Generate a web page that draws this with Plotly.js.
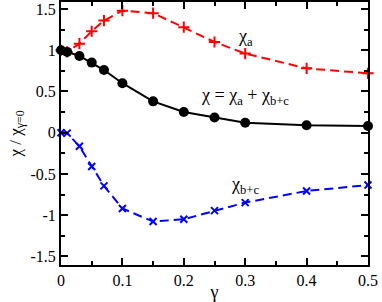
<!DOCTYPE html>
<html><head><meta charset="utf-8">
<script src="https://cdn.plot.ly/plotly-3.0.1.min.js"></script>
<style>html,body{margin:0;padding:0;background:#fff}#chart{width:382px;height:302px}</style>
</head><body><div id="chart"></div>
<script>
const gamma = [0, 0.01, 0.03, 0.05, 0.07, 0.1, 0.15, 0.2, 0.25, 0.3, 0.4, 0.5];
const chiA = [1.0, 0.98, 1.08, 1.23, 1.36, 1.48, 1.45, 1.28, 1.1, 0.96, 0.78, 0.72];
const chiTotal = [1.0, 0.98, 0.93, 0.85, 0.76, 0.6, 0.38, 0.25, 0.185, 0.12, 0.09, 0.08];
const chiBC = [0.0, -0.005, -0.165, -0.41, -0.645, -0.92, -1.078, -1.05, -0.945, -0.848, -0.707, -0.635];
const xTicks = [0, 0.1, 0.2, 0.3, 0.4, 0.5];
const xTickText = ['0', '0.1', '0.2', '0.3', '0.4', '0.5'];
const yTicks = [-1.5, -1, -0.5, 0, 0.5, 1, 1.5];
const yTickText = ['-1.5', '-1', '-0.5', '0', '0.5', '1', '1.5'];

const serif = '"Liberation Serif", "Times New Roman", serif';
const traces = [
  {x: gamma, y: chiA, mode: 'lines+markers', cliponaxis: false,
   line: {color: '#ff0000', width: 2, dash: '9px,5px'},
   marker: {symbol: 'cross-thin-open', size: 8, color: '#ff0000', line: {color: '#ff0000', width: 2}}},
  {x: gamma, y: chiBC, mode: 'lines+markers', cliponaxis: false,
   line: {color: '#0000ff', width: 2, dash: '9px,5px'},
   marker: {symbol: 'x-thin-open', size: 7, color: '#0000ff', line: {color: '#0000ff', width: 2}}},
  {x: gamma, y: chiTotal, mode: 'lines+markers', cliponaxis: false,
   line: {color: '#000000', width: 2},
   marker: {symbol: 'circle', size: 10, color: '#000000'}}
];
const axBase = {
  showgrid: false, zeroline: false, showline: true, linecolor: '#000', linewidth: 2,
  mirror: 'allticks', ticks: 'inside', ticklen: 7, tickwidth: 2, tickcolor: '#000',
  tickfont: {family: serif, size: 16, color: '#000'}
};
const layout = {
  width: 382, height: 302,
  margin: {l: 61, r: 14, t: 2, b: 37},
  paper_bgcolor: '#fff', plot_bgcolor: '#fff',
  showlegend: false,
  font: {family: serif, color: '#000'},
  xaxis: Object.assign({}, axBase, {
    range: [0, 0.5], tickvals: xTicks, ticktext: xTickText,
    minor: {ticks: 'inside', dtick: 0.05, tick0: 0, ticklen: 4, tickwidth: 2, tickcolor: '#000'},
    title: {text: 'γ', font: {family: serif, size: 18, color: '#000'}, standoff: 1}
  }),
  yaxis: Object.assign({}, axBase, {
    range: [-1.605, 1.585], tickvals: yTicks, ticktext: yTickText,
    minor: {ticks: 'inside', dtick: 0.25, tick0: 0, ticklen: 4, tickwidth: 2, tickcolor: '#000'},
    title: {text: 'χ / χ<sub>γ=0</sub>', font: {family: serif, size: 17, color: '#000'}, standoff: 5}
  }),
  annotations: [
    {x: 0.3, y: 1.16, xref: 'x', yref: 'y', text: 'χ<sub>a</sub>', showarrow: false,
     font: {family: serif, size: 18, color: '#000'}},
    {x: 0.3, y: 0.44, xref: 'x', yref: 'y', text: 'χ = χ<sub>a</sub> + χ<sub>b+c</sub>', showarrow: false,
     font: {family: serif, size: 18, color: '#000'}},
    {x: 0.3, y: -0.64, xref: 'x', yref: 'y', text: 'χ<sub>b+c</sub>', showarrow: false,
     font: {family: serif, size: 18, color: '#000'}}
  ]
};
Plotly.newPlot('chart', traces, layout, {displayModeBar: false, staticPlot: true});
</script></body></html>
